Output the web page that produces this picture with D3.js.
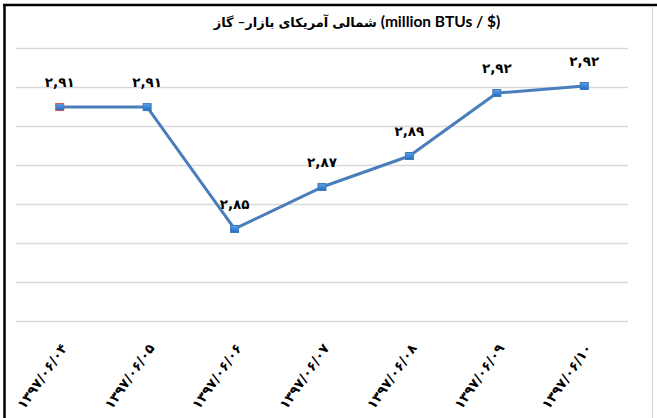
<html><head>
<script src="https://cdnjs.cloudflare.com/ajax/libs/d3/7.8.5/d3.min.js"></script>
<style>
  body { margin: 0; background: #fff; }
  #chart text { font-family: Lato, "DejaVu Sans", sans-serif; font-weight: bold; fill: #000; }
  .grid line { stroke: #d9d9d9; stroke-width: 1.5; }
  .grid .domain { stroke: none; }
  .xaxis .domain { stroke: none; }
  #chart .xaxis text { font-family: "DejaVu Sans", sans-serif; font-size: 13.5px; }
  #chart .valueLabel { font-family: "DejaVu Sans", sans-serif; font-size: 13.5px; }
</style>
</head>
<body>
<svg id="chart" width="657" height="418"></svg>
<script>

// title pieces, in the left-to-right order they appear in the picture
const titleParts = ["گاز", "–بازار", "آمریکای", "شمالی", "(million BTUs / $)"];
const dates = ["۱۳۹۷/۰۶/۰۴", "۱۳۹۷/۰۶/۰۵", "۱۳۹۷/۰۶/۰۶", "۱۳۹۷/۰۶/۰۷", "۱۳۹۷/۰۶/۰۸", "۱۳۹۷/۰۶/۰۹", "۱۳۹۷/۰۶/۱۰"];
const prices = [2.9097, 2.9097, 2.8472, 2.8687, 2.8846, 2.9169, 2.9205];
const priceLabels = ["۲,۹۱", "۲,۹۱", "۲,۸۵", "۲,۸۷", "۲,۸۹", "۲,۹۲", "۲,۹۲"];
const yTicks = [2.80, 2.82, 2.84, 2.86, 2.88, 2.90, 2.92, 2.94];

let svg = d3.select("#chart");
let margin = { top: 48, right: 29, bottom: 97, left: 16 };
let width = +svg.attr("width");
let height = +svg.attr("height");
let chartWidth = width - margin.left - margin.right;

const xScale = d3.scaleBand().domain(dates).range([margin.left, width - margin.right]);
const yScale = d3.scaleLinear().domain([2.80, 2.94]).range([height - margin.bottom, margin.top]);
const cx = d => xScale(d) + xScale.bandwidth() / 2;

// frame (black top/left, grey right)
svg.append("line").attr("x1", 3).attr("x2", width).attr("y1", 5).attr("y2", 5)
  .style("stroke", "#000").style("stroke-width", 2.5);
svg.append("line").attr("x1", 4.5).attr("x2", 4.5).attr("y1", 4).attr("y2", height)
  .style("stroke", "#000").style("stroke-width", 2.5);
svg.append("line").attr("x1", 652.5).attr("x2", 652.5).attr("y1", 6).attr("y2", height)
  .style("stroke", "#d0d0d0").style("stroke-width", 1);

// title: each piece is its own text so the word order stays as drawn
let isArabic = s => /[\u0600-\u06FF]/.test(s);
let titleG = svg.append("g");
let parts = titleG.selectAll("text")
  .data(titleParts)
  .enter().append("text")
  .attr("y", 27)
  .style("font-size", d => isArabic(d) ? "13px" : "15.5px")
  .text(d => d);
let gap = 4;
let widths = parts.nodes().map(n => n.getComputedTextLength());
let total = d3.sum(widths) + gap * (widths.length - 1);
let pos = 357 - total / 2;
parts.attr("x", (d, i) => {
  let x = pos;
  pos += widths[i] + gap;
  return x;
});

// gridlines
let grid = d3.axisLeft(yScale).tickValues(yTicks).tickSize(-chartWidth).tickFormat("");
svg.append("g")
  .attr("class", "grid")
  .attr("transform", "translate(" + margin.left + ",0)")
  .call(grid);

// category labels
let bottomAxis = d3.axisBottom(xScale).tickSize(0);
svg.append("g")
  .attr("class", "xaxis")
  .attr("transform", "translate(0," + (height - margin.bottom) + ")")
  .call(bottomAxis)
  .selectAll("text")
  .attr("x", 0).attr("y", 0).attr("dy", 0)
  .attr("text-anchor", "end")
  .attr("transform", "translate(8,27) rotate(-55)");

// line
let line = d3.line()
  .x((d, i) => cx(dates[i]))
  .y(d => yScale(d));
svg.append("path")
  .datum(prices)
  .attr("d", line)
  .style("fill", "none")
  .style("stroke", "#4a7ebb")
  .style("stroke-width", 3)
  .style("stroke-linejoin", "round");

// markers
let defs = svg.append("defs");
let grad = defs.append("linearGradient").attr("id", "mk").attr("x1", 0).attr("y1", 0).attr("x2", 0).attr("y2", 1);
grad.append("stop").attr("offset", "0%").attr("stop-color", "#5aa2e8");
grad.append("stop").attr("offset", "100%").attr("stop-color", "#1f6cc4");

svg.selectAll(".marker")
  .data(prices)
  .enter().append("rect")
  .attr("class", "marker")
  .attr("x", (d, i) => cx(dates[i]) - 4)
  .attr("y", d => yScale(d) - 3.5)
  .attr("width", 8)
  .attr("height", 7)
  .style("fill", "url(#mk)")
  .style("stroke", (d, i) => i === 0 ? "#d0504d" : "#3f78bd")
  .style("stroke-width", 1);

// value labels
svg.selectAll(".valueLabel")
  .data(prices)
  .enter().append("text")
  .attr("class", "valueLabel")
  .attr("x", (d, i) => cx(dates[i]))
  .attr("y", d => yScale(d) - 20)
  .attr("text-anchor", "middle")
  .text((d, i) => priceLabels[i]);

</script>
</body>
</html>
